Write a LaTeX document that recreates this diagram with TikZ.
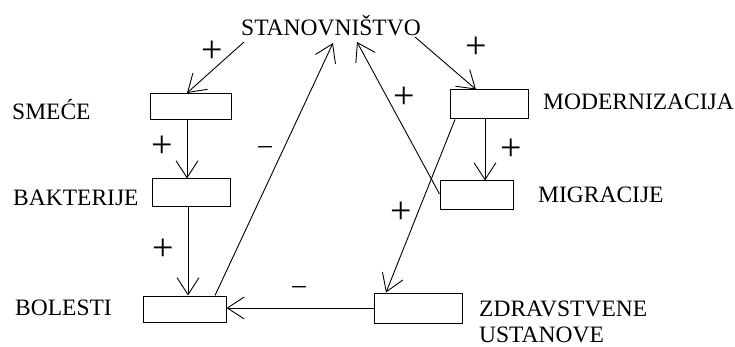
\documentclass[tikz,border=0pt]{standalone}
\usepackage{fontspec}
\setmainfont{Liberation Serif}
\usetikzlibrary{arrows.meta}
\begin{document}
\begin{tikzpicture}[x=1pt,y=-1pt,
  box/.style={draw,line width=1pt,inner sep=0pt,minimum width=#1},
  lbl/.style={inner sep=0pt,anchor=base west,font=\fontsize{23.5}{27}\selectfont},
  plus/.style={inner sep=0pt,font=\fontsize{38}{38}\selectfont},
  minus/.style={inner sep=0pt,font=\fontsize{27}{27}\selectfont},
  conn/.style={line width=0.9pt,-{Straight Barb[length=17pt,width=22pt,line width=0.9pt]}}]
\useasboundingbox (0,0) rectangle (735,347);
% boxes
\node[box=81pt,minimum height=26pt] (smece) at (190.5,106.5) {};
\node[box=78pt,minimum height=28pt] (bakt) at (191,193) {};
\node[box=83pt,minimum height=26pt] (bol) at (184.5,309) {};
\node[box=78pt,minimum height=29pt] (modern) at (489,104.5) {};
\node[box=73pt,minimum height=29pt] (migr) at (476.5,195.5) {};
\node[box=88pt,minimum height=30pt] (zdrav) at (418,308) {};
% labels
\node[lbl] (tstan) at (241,36) {STANOVNIŠTVO};
\node[lbl] (tsmece) at (12,120) {SMEĆE};
\node[lbl] (tbakt) at (13,205.5) {BAKTERIJE};
\node[lbl] (tbol) at (15,315.5) {BOLESTI};
\node[lbl] (tmodern) at (543,110) {MODERNIZACIJA};
\node[lbl] (tmigr) at (538,203) {MIGRACIJE};
\node[lbl] (tzdrav) at (479,316.5) {ZDRAVSTVENE};
\node[lbl] (tust) at (479,342.5) {USTANOVE};
% connector end points
\coordinate (sA) at (244,42);
\coordinate (sB) at (333,43);
\coordinate (sC) at (357,42);
\coordinate (sD) at (415,37);
% connectors
\draw[conn] (sA) -- ([xshift=-3.5pt]smece.north);
\draw[conn] ([xshift=-3.5pt]smece.south) -- ([xshift=-4pt]bakt.north);
\draw[conn] ([xshift=-3pt]bakt.south) -- ([xshift=3.5pt]bol.north);
\draw[conn] ([xshift=30.5pt]bol.north) -- (sB);
\draw[conn] (zdrav.west) -- (zdrav.west -| bol.east);
\draw[conn] (sD) -- ([xshift=-13pt]modern.north);
\draw[conn] ([xshift=-4pt]modern.south) -- ([xshift=8.5pt]migr.north);
\draw[conn] ([yshift=1.5pt]migr.west) -- (sC);
\draw[conn] ([xshift=-34pt]modern.south) -- ([xshift=-32pt]zdrav.north);
% signs
\node[plus] (p1) at (212,52) {+};
\node[plus] (p2) at (162,147) {+};
\node[minus] (m1) at (265,150) {–};
\node[plus] (p3) at (163,250) {+};
\node[minus] (m2) at (299,290) {–};
\node[plus] (p4) at (476,48) {+};
\node[plus] (p5) at (404,98) {+};
\node[plus] (p6) at (511,150) {+};
\node[plus] (p7) at (401,213) {+};
\end{tikzpicture}
\end{document}
